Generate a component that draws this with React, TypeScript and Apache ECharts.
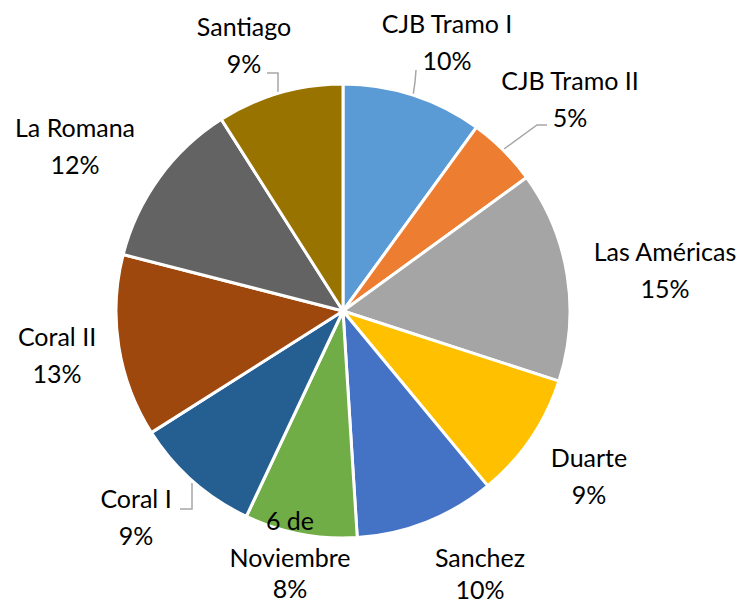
import React, { useEffect, useRef } from "react";
import * as echarts from "echarts";

const categories = [
  "CJB Tramo I",
  "CJB Tramo II",
  "Las Américas",
  "Duarte",
  "Sanchez",
  "6 de Noviembre",
  "Coral I",
  "Coral II",
  "La Romana",
  "Santiago",
];
const labelNames = [
  "CJB Tramo I",
  "CJB Tramo II",
  "Las Américas",
  "Duarte",
  "Sanchez",
  "6 de\nNoviembre",
  "Coral I",
  "Coral II",
  "La Romana",
  "Santiago",
];
const shares = [10, 5, 15, 9, 10, 8, 9, 13, 12, 9];
const sliceColors = [
  "#5B9BD5",
  "#ED7D31",
  "#A5A5A5",
  "#FFC000",
  "#4472C4",
  "#70AD47",
  "#255E91",
  "#9E480E",
  "#636363",
  "#997300",
];
// label block centres (annotation layout, not data)
const labelCenters = [
  [447, 41],
  [570, 98],
  [665, 269],
  [589, 475],
  [480, 570],
  [290, 551],
  [136, 516],
  [57, 354],
  [75, 145],
  [244, 44],
];
// labels sitting on the bottom edge get a tighter last line
const tightLast = [false, false, false, false, true, true, false, false, false, false];
// leader line routes (annotation layout)
const leaderRoutes: (number[][] | null)[] = [
  [[416, 70], [415, 82], [413, 96]],
  [[547, 125], [537, 125], [504, 149]],
  null,
  null,
  null,
  null,
  [[180, 509], [192, 509], [192, 483]],
  null,
  null,
  [[267, 73], [278, 73], [278, 96]],
];

export default function App() {
  const ref = useRef<HTMLDivElement>(null);
  useEffect(() => {
    document.body.style.margin = "0";
    const chart = echarts.init(ref.current!, null, { renderer: "svg" });
    const txt = { fontFamily: "Lato", fontSize: 25, color: "#000000", align: "center" };
    chart.setOption({
      animation: false,
      backgroundColor: "#ffffff",
      series: [
        {
          type: "pie",
          center: [343, 311],
          radius: 227,
          startAngle: 90,
          clockwise: true,
          avoidLabelOverlap: false,
          itemStyle: { borderColor: "#ffffff", borderWidth: 3 },
          label: {
            show: true,
            position: "outside",
            fontFamily: "Lato",
            fontSize: 25,
            lineHeight: 37,
            color: "#000000",
            align: "center",
            formatter: (p: any) => {
              const i = p.dataIndex;
              return "{a|" + labelNames[i] + "}\n{" + (tightLast[i] ? "b" : "a") + "|" + shares[i] + "%}";
            },
            rich: {
              a: { ...txt, lineHeight: 37 },
              b: { ...txt, lineHeight: 26 },
            },
          },
          labelLine: {
            length: 10,
            length2: 10,
            lineStyle: { color: "#A6A6A6", width: 1.5 },
          },
          labelLayout: (p: any) => {
            const i = p.dataIndex;
            const o: any = {
              x: labelCenters[i][0],
              y: labelCenters[i][1],
              align: "center",
              verticalAlign: "middle",
            };
            if (leaderRoutes[i]) o.labelLinePoints = leaderRoutes[i];
            return o;
          },
          data: categories.map((name, i) => ({
            name,
            value: shares[i],
            itemStyle: { color: sliceColors[i] },
            labelLine: { show: leaderRoutes[i] !== null },
          })),
        },
      ],
    });
    return () => chart.dispose();
  }, []);
  return <div ref={ref} style={{ width: 742, height: 602 }} />;
}
